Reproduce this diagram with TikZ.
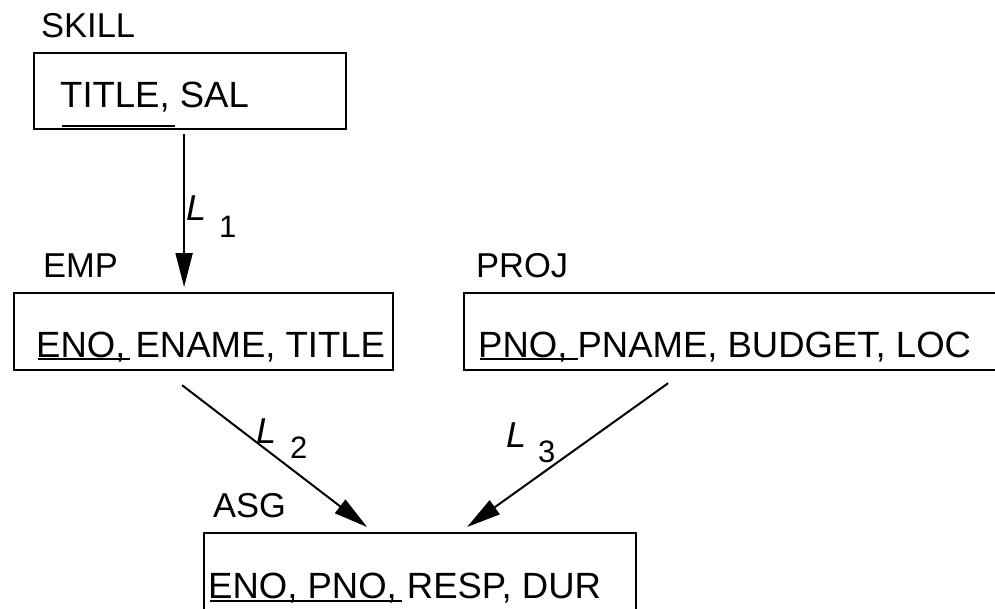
\documentclass[tikz,border=0pt]{standalone}
\usepackage{fontspec}
\setmainfont{Liberation Sans}
\usetikzlibrary{arrows.meta,calc}

\tikzset{
  relbox/.style={draw, line width=2.2pt, inner sep=0pt, anchor=north west},
  relname/.style={inner sep=0pt, anchor=base west, font=\fontsize{34.5}{40}\selectfont},
  attrs/.style={inner sep=0pt, anchor=base west, font=\fontsize{36.5}{42}\selectfont},
  keyline/.style={line width=2.4pt},
  linkarrow/.style={line width=2pt, -{Triangle[length=34pt,width=17pt]}},
  linkL/.style={inner sep=0pt, anchor=base west, font=\fontsize{36}{40}\selectfont\itshape},
  linkN/.style={inner sep=0pt, anchor=base west, font=\fontsize{31}{36}\selectfont},
}

\begin{document}
\begin{tikzpicture}[x=1pt, y=-1pt]
  \clip (0,0) rectangle (995,608);
  \fill[white] (0,0) rectangle (995,608);

  % relation boxes
  \node[relbox, minimum width=312, minimum height=76] (skill) at (33,52) {};
  \node[relbox, minimum width=379, minimum height=77] (emp) at (13,292) {};
  \node[relbox, minimum width=560, minimum height=77] (proj) at (463,292) {};
  \node[relbox, minimum width=432, minimum height=100] (asg) at (203,532) {};

  % relation names
  \node[relname] (skillname) at (41,37) {SKILL};
  \node[relname] (empname) at (43,277) {EMP};
  \node[relname] (projname) at (476,277) {PROJ};
  \node[relname] (asgname) at (213,517) {ASG};

  % attributes
  \node[attrs] (skillattr) at (60,107) {TITLE, SAL};
  \node[attrs] (empattr) at (36,357) {ENO, ENAME, TITLE};
  \node[attrs] (projattr) at (478,357) {PNO, PNAME, BUDGET, LOC};
  \node[attrs] (asgattr) at (208,598) {ENO, PNO, RESP, DUR};

  % key underlines
  \draw[keyline] (62,126) -- (175,126);
  \draw[keyline] (38,359) -- (130,359);
  \draw[keyline] (480,359) -- (578,359);
  \draw[keyline] (210,601) -- (402,601);

  % links
  \draw[linkarrow] ($(skill.south)+(-6,4)$) -- ($(emp.north)+(-19.5,-5)$);
  \draw[linkarrow] ($(emp.south)+(-21.5,14)$) -- ($(asg.north)+(-53,-5)$);
  \draw[linkarrow] ($(proj.south)+(-76,12)$) -- ($(asg.north)+(47,-5)$);

  % link labels
  \node[linkL] (l1) at (186,220) {L};
  \node[linkN] (n1) at (219,237) {1};
  \node[linkL] (l2) at (256,443) {L};
  \node[linkN] (n2) at (290,458) {2};
  \node[linkL] (l3) at (506,447) {L};
  \node[linkN] (n3) at (538,462) {3};
\end{tikzpicture}
\end{document}
